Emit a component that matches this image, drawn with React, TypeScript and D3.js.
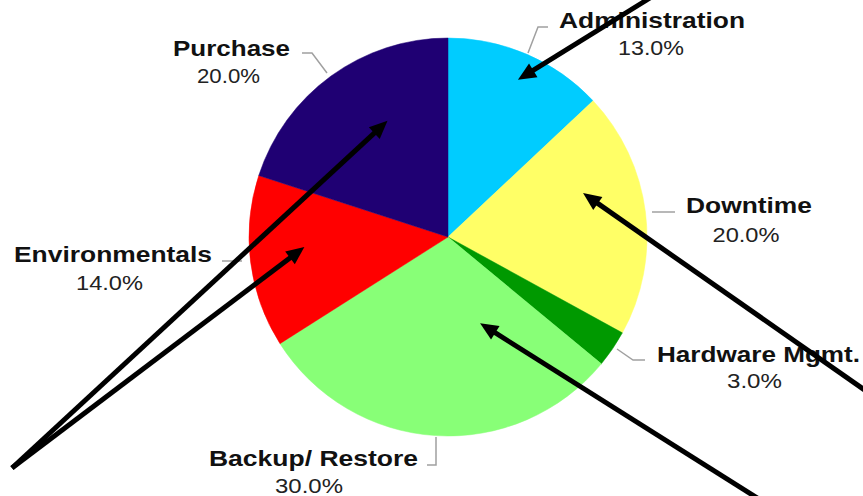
import React from "react";
import * as d3 from "d3";

// ---- data ----
const categories = ["Administration", "Downtime", "Hardware Mgmt.", "Backup/ Restore", "Environmentals", "Purchase"];
const values = [13, 20, 3, 30, 14, 20];
const colors = ["#00ccff", "#ffff66", "#009900", "#88ff77", "#ff0000", "#1f0073"];

// ---- layout (not data) ----
const W = 863, H = 496;
const CX = 448, CY = 237, R = 199;
// label positions: [centerX, nameBaseline, pctCenterX, pctBaseline, nameWidth, pctWidth]
const labelLayout = [
  [652, 28, 651, 55, 186, 66],
  [749, 213, 746, 242, 126, 67],
  [758.5, 362, 754.5, 388, 203, 55],
  [313.5, 466, 309, 493, 209, 68],
  [113, 262, 109.5, 290, 198, 67],
  [231.5, 56, 228.5, 83, 117, 63],
];
const leaders = [
  [[548, 27], [538, 27], [528, 53]],
  [[652, 212], [675, 212]],
  [[617, 349], [633, 360], [645, 360]],
  [[436, 437], [436, 465], [427, 465]],
  [[222, 261], [242, 261]],
  [[302, 53], [312, 53], [327, 73]],
];
// arrows: tail point in page coords, tip as polar (deg clockwise from top, radius) from pie centre
const arrows = [
  { tail: [650, -2], angle: 24, r: 172 },
  { tail: [876, 398], angle: 72, r: 142 },
  { tail: [762, 501], angle: 159.6, r: 92 },
  { tail: [12, 468], angle: 266, r: 144 },
  { tail: [12, 468], angle: 332.5, r: 131 },
];

export default function App() {
  const pie = d3.pie<number>().sort(null).startAngle(0).endAngle(2 * Math.PI);
  const arcs = pie(values);
  const arc = d3.arc<d3.PieArcDatum<number>>().innerRadius(0).outerRadius(R);
  const total = d3.sum(values);
  const fmt = d3.format(".1%");
  const line = d3.line();

  return (
    <svg width={W} height={H} style={{ position: "absolute", left: 0, top: 0, background: "#fff" }}
      fontFamily="'Liberation Sans', Arial, sans-serif">
      <g transform={`translate(${CX},${CY})`}>
        {arcs.map((a, i) => (
          <path key={i} d={arc(a) || ""} fill={colors[i]} stroke={colors[i]} strokeWidth={0.5} />
        ))}
      </g>
      {leaders.map((pts, i) => (
        <path key={i} d={line(pts as [number, number][]) || ""} fill="none" stroke="#a0a0a0" strokeWidth={1.5} />
      ))}
      {categories.map((c, i) => {
        const [nx, ny, px, py, nw, pw] = labelLayout[i];
        return (
          <g key={c}>
            <text x={nx} y={ny} textAnchor="middle" fontWeight="bold" fontSize={22} fill="#111"
              textLength={nw} lengthAdjust="spacingAndGlyphs">{c}</text>
            <text x={px} y={py} textAnchor="middle" fontSize={21} fill="#222"
              textLength={pw} lengthAdjust="spacingAndGlyphs">{fmt(values[i] / total)}</text>
          </g>
        );
      })}
      {arrows.map((a, i) => {
        const rad = (a.angle * Math.PI) / 180;
        const tx = CX + a.r * Math.sin(rad);
        const ty = CY - a.r * Math.cos(rad);
        const [sx, sy] = a.tail;
        const dx = tx - sx, dy = ty - sy;
        const len = Math.hypot(dx, dy);
        const ux = dx / len, uy = dy / len;
        const hl = 18, hw = 8;
        const bx = tx - ux * hl, by = ty - uy * hl;
        const head = `M${tx},${ty} L${bx - uy * hw},${by + ux * hw} L${bx + uy * hw},${by - ux * hw} Z`;
        return (
          <g key={i}>
            <line x1={sx} y1={sy} x2={tx - ux * (hl - 4)} y2={ty - uy * (hl - 4)} stroke="#000" strokeWidth={5} />
            <path d={head} fill="#000" />
          </g>
        );
      })}
    </svg>
  );
}
